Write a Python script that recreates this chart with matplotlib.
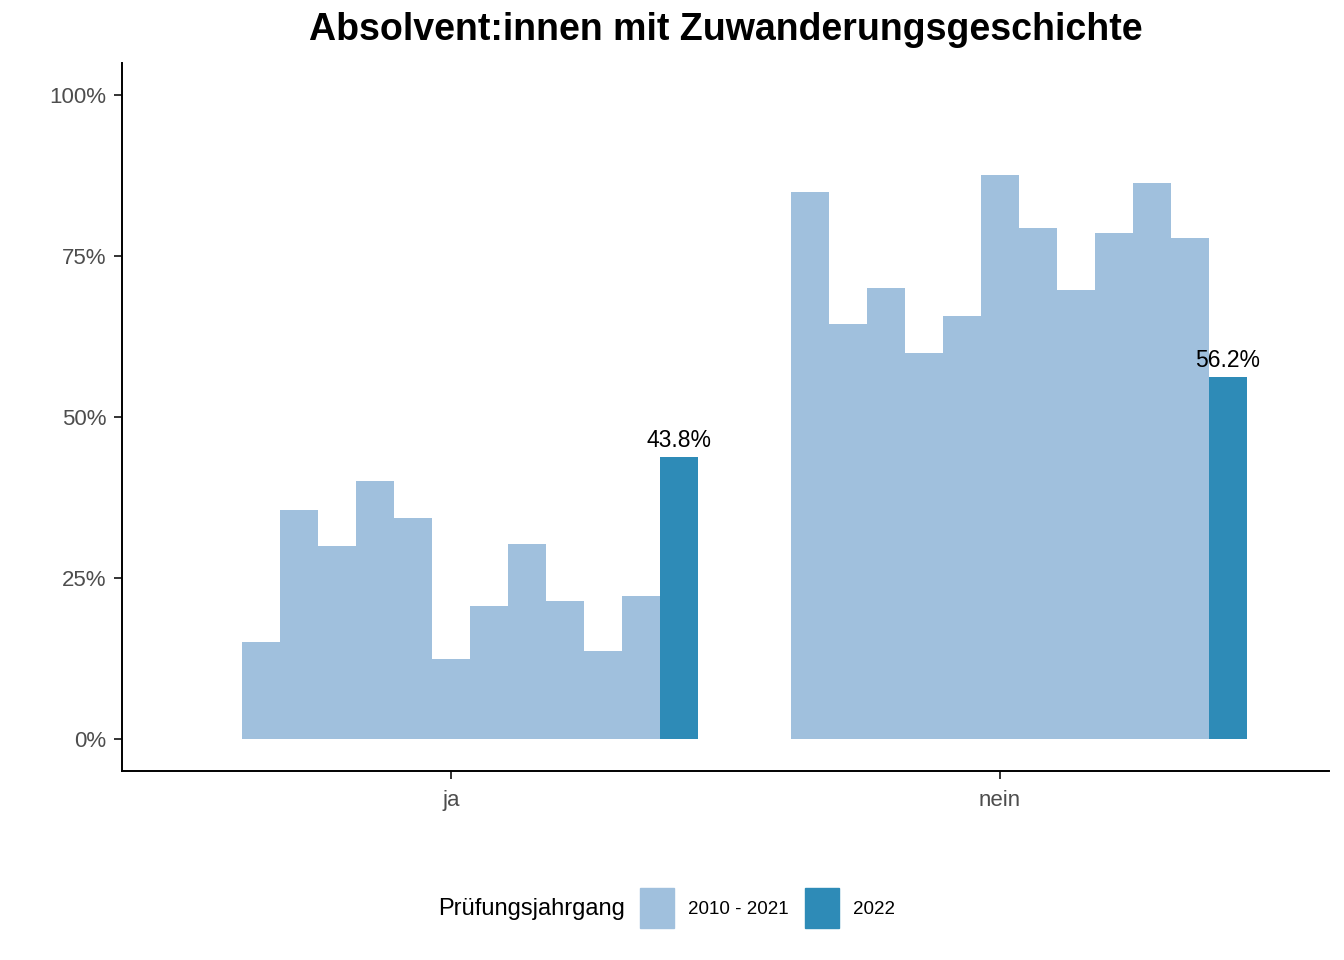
import numpy as np
import matplotlib.pyplot as plt
from matplotlib.patches import Patch

plt.rcParams['font.family'] = ['Liberation Sans', 'DejaVu Sans']

groups = ['ja', 'nein']
years = list(range(2010, 2023))
# 2010 has no value (empty slot in the dodge)
ja = [np.nan, 15.0, 35.5, 30.0, 40.0, 34.3, 12.4, 20.6, 30.2, 21.4, 13.6, 22.2, 43.8]
nein = [np.nan, 85.0, 64.5, 70.0, 60.0, 65.7, 87.6, 79.4, 69.8, 78.6, 86.4, 77.8, 56.2]
legend_labels = ['2010 - 2021', '2022']

c_old = '#a0c0dd'
c_new = '#2e8bb7'

fig = plt.figure(figsize=(13.44, 9.6), dpi=100)
ax = fig.add_axes([122/1344, 1-771/960, (1329-122)/1344, (771-63)/960])

n = len(years)
w = 0.9/n
for gi, vals in enumerate([ja, nein]):
    x0 = gi + 1
    for i, (yr, v) in enumerate(zip(years, vals)):
        if np.isnan(v):
            continue
        xc = x0 - 0.45 + (i+0.5)*w
        col = c_new if yr == 2022 else c_old
        ax.bar(xc, v, width=w, color=col, linewidth=0)
        if yr == 2022:
            ax.text(xc, v + 0.8, f'{v:.1f}%', ha='center', va='bottom', fontsize=16.5, color='black')

ax.set_xlim(0.4, 2.6)
ax.set_ylim(-5, 105)
ax.set_xticks([1, 2])
ax.set_xticklabels(groups)
yt = [0, 25, 50, 75, 100]
ax.set_yticks(yt)
ax.set_yticklabels([f'{t}%' for t in yt])
ax.tick_params(axis='both', colors='#333333', labelcolor='#4d4d4d', labelsize=16, length=6, width=1.4)
ax.tick_params(axis='x', pad=8)
ax.tick_params(axis='y', pad=5)
for s in ['top', 'right']:
    ax.spines[s].set_visible(False)
for s in ['left', 'bottom']:
    ax.spines[s].set_linewidth(1.4)

fig.text((122+1329)/2/1344, 1-30/960, 'Absolvent:innen mit Zuwanderungsgeschichte',
         ha='center', va='center', fontsize=27, fontweight='bold')

fig.text(438/1344, 1-909/960, 'Prüfungsjahrgang', ha='left', va='center', fontsize=17)
handles = [Patch(color=c_old, label=legend_labels[0]), Patch(color=c_new, label=legend_labels[1])]
fig.legend(handles=handles, loc='center left', bbox_to_anchor=(640/1344, 1-908/960), ncol=2,
           frameon=False, fontsize=13.5, handlelength=1.82, handleheight=2.9, handletextpad=0.75,
           columnspacing=0.85, borderpad=0, borderaxespad=0)

fig.savefig('out.png', dpi=100)
